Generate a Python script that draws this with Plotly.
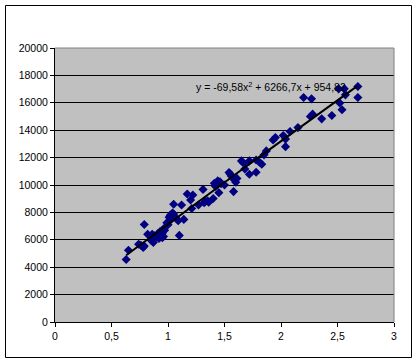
import plotly.graph_objects as go

x_values = [0.63, 0.65, 0.74, 0.76, 0.78, 0.79, 0.79, 0.82, 0.85, 0.86, 0.87, 0.88,
            0.90, 0.91, 0.92, 0.93, 0.94, 0.95, 0.95, 0.96, 0.97, 0.99, 1.00, 1.02,
            1.03, 1.04, 1.05, 1.05, 1.07, 1.09, 1.10, 1.12, 1.14, 1.17, 1.20, 1.21,
            1.22, 1.27, 1.31, 1.32, 1.35, 1.40, 1.41, 1.42, 1.45, 1.46, 1.47, 1.50,
            1.54, 1.56, 1.58, 1.59, 1.60, 1.61, 1.65, 1.67, 1.68, 1.72, 1.72, 1.78,
            1.78, 1.81, 1.83, 1.85, 1.87, 1.93, 1.95, 2.02, 2.04, 2.04, 2.08, 2.15,
            2.20, 2.27, 2.26, 2.28, 2.36, 2.45, 2.51, 2.52, 2.54, 2.56, 2.57, 2.68, 2.68,
            1.33, 1.36, 1.44, 1.03, 1.01, 0.93, 0.96, 1.55]
y_values = [4560, 5240, 5680, 5600, 5440, 5540, 7120, 6400, 5970, 6410, 5800, 6300,
            6200, 6450, 6100, 6600, 6300, 6150, 6500, 6800, 6700, 7240, 7100, 7800,
            7500, 7950, 7880, 8600, 7600, 7390, 6320, 8540, 7490, 9340, 8900, 8290,
            9270, 8540, 9680, 8710, 8850, 9020, 10120, 9900, 9440, 10240, 10100, 10000,
            10910, 10650, 9520, 10350, 10200, 10480, 11760, 11590, 11170, 11760, 10780, 10930,
            11830, 11660, 11520, 12200, 12490, 13290, 13460, 13610, 12800, 13350, 13900, 14190,
            16390, 16290, 15000, 15170, 14830, 15070, 17020, 15980, 15490, 17020, 16580, 17190, 16390,
            8800, 8750, 10300, 7700, 7650, 6350, 6250, 10800]

# trendline coefficients shown on the chart (a2, a1, a0)
trend_coeffs = [-69.58, 6266.7, 954.82]
trend_label = "y = -69,58x<sup>2</sup> + 6266,7x + 954,82"

x_tick_vals = [0, 0.5, 1, 1.5, 2, 2.5, 3]
x_tick_text = ["0", "0,5", "1", "1,5", "2", "2,5", "3"]
y_tick_vals = [0, 2000, 4000, 6000, 8000, 10000, 12000, 14000, 16000, 18000, 20000]
y_tick_text = [str(v) for v in y_tick_vals]

xmin, xmax = min(x_values), max(x_values)
n = 60
trend_x = [xmin + (xmax - xmin) * i / (n - 1) for i in range(n)]
trend_y = [trend_coeffs[0] * t * t + trend_coeffs[1] * t + trend_coeffs[2] for t in trend_x]

fig = go.Figure()
fig.add_trace(go.Scatter(x=x_values, y=y_values, mode="markers",
                         marker=dict(symbol="diamond", size=7, color="#000080"),
                         showlegend=False, hoverinfo="skip"))
fig.add_trace(go.Scatter(x=trend_x, y=trend_y, mode="lines",
                         line=dict(color="black", width=2),
                         showlegend=False, hoverinfo="skip"))

W, H = 418, 363
L, R, T, B = 55, 24, 48, 41
pw, ph = W - L - R, H - T - B

def px_to_paper_x(p):
    return (p - L) / pw

def py_to_paper_y(p):
    return (H - B - p) / ph

fig.update_layout(
    width=W, height=H,
    margin=dict(l=L, r=R, t=T, b=B, pad=0),
    paper_bgcolor="white",
    plot_bgcolor="#C0C0C0",
    font=dict(family="Liberation Sans, Arial, sans-serif", size=10.5, color="black"),
    xaxis=dict(range=[0, 3], tickvals=x_tick_vals, ticktext=x_tick_text,
               showgrid=False, zeroline=False, showline=True, linecolor="black",
               linewidth=1, ticks="outside", ticklen=4, tickcolor="black",
               fixedrange=True),
    yaxis=dict(range=[0, 20000], tickvals=y_tick_vals, ticktext=y_tick_text,
               showgrid=True, gridcolor="black", gridwidth=1, zeroline=False,
               showline=True, linecolor="black", linewidth=1, ticks="outside",
               ticklen=4, tickcolor="black", fixedrange=True),
    shapes=[
        dict(type="line", xref="paper", yref="paper", x0=0, x1=1, y0=1, y1=1,
             line=dict(color="#808080", width=1), layer="above"),
        dict(type="line", xref="paper", yref="paper", x0=1, x1=1, y0=0, y1=1,
             line=dict(color="#808080", width=1), layer="above"),
        dict(type="rect", xref="paper", yref="paper",
             x0=px_to_paper_x(5.5), x1=px_to_paper_x(411.5),
             y0=py_to_paper_y(357.5), y1=py_to_paper_y(5.5),
             line=dict(color="black", width=1), layer="above"),
    ],
    annotations=[
        dict(x=1.228, y=17190, xref="x", yref="y", text=trend_label,
             showarrow=False, xanchor="left", yanchor="middle",
             font=dict(size=10.5, color="black")),
    ],
)

fig.write_html("out.html",
               config={"displayModeBar": False, "staticPlot": True},
               post_script="document.body.style.margin='0';document.body.style.overflow='hidden';")
